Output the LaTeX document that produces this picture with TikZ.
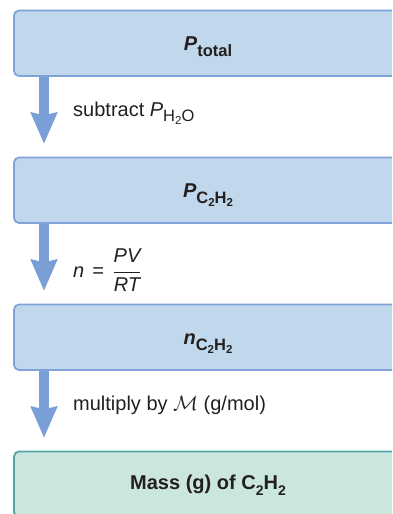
\documentclass[tikz,border=0pt]{standalone}
\usepackage{fontspec}
\setmainfont{Liberation Sans}
\usetikzlibrary{arrows.meta,backgrounds}
\definecolor{boxfill}{HTML}{C1D8EC}
\definecolor{boxline}{HTML}{80A4D8}
\definecolor{arrowc}{HTML}{7A9ED6}
\definecolor{gfill}{HTML}{CAE6DD}
\definecolor{gline}{HTML}{4FA6A6}
\definecolor{ink}{HTML}{231F20}
\newcommand\subP[1]{\raisebox{-5.5pt}{\fontsize{16.5}{18}\selectfont #1}}
\newcommand\subD[1]{\raisebox{-3pt}{\fontsize{11.5}{13}\selectfont #1}}
\newcommand\subN[1]{\raisebox{-5.5pt}{\fontsize{14}{16}\selectfont #1}}
\tikzset{
  box/.style={rectangle, rounded corners=5pt, line width=1.8pt, outer sep=0pt,
    minimum width=388pt, minimum height=65.5pt, inner sep=0pt, text=ink,
    font=\fontsize{20}{24}\selectfont\bfseries, text depth=0pt},
  bluebox/.style={box, draw=boxline, fill=boxfill},
  greenbox/.style={box, draw=gline, fill=gfill},
  flow/.style={color=arrowc, line width=10pt,
    -{Stealth[length=31.5pt, width=27.5pt, inset=3.3pt, line width=0pt]}},
  lbl/.style={text=ink, inner sep=0pt, font=\fontsize{20}{24}\selectfont}
}
\begin{document}
\begin{tikzpicture}[x=1pt,y=-1pt]
\useasboundingbox (0,0) rectangle (392,514);
\clip (0,0) rectangle (392,514);
\node[bluebox, text height=15pt] (b1) at (208,43.25) {{\itshape P}\subP{total}};
\node[bluebox, text height=14.5pt] (b2) at (208,190.25) {{\itshape P}\subP{C\subD{2}H\subD{2}}};
\node[bluebox, text height=15pt] (b3) at (208,337.25) {{\itshape n}\subP{C\subD{2}H\subD{2}}};
\node[greenbox, text height=11pt] (b4) at (208,484.25) {Mass (g) of C\subN{2}H\subN{2}};
\coordinate (ax) at (44,0);
\coordinate (t1) at ([yshift=14pt]b2.north);
\coordinate (t2) at ([yshift=14pt]b3.north);
\coordinate (t3) at ([yshift=14pt]b4.north);
\begin{scope}[on background layer]
\draw[flow] (b1.south -| ax) -- (t1 -| ax);
\draw[flow] (b2.south -| ax) -- (t2 -| ax);
\draw[flow] (b3.south -| ax) -- (t3 -| ax);
\end{scope}
\node[lbl, anchor=base west] (l1) at (73,116) {subtract \textit{P}\subP{H\subD{2}O}};
\node[lbl, anchor=base west] (l2) at (73,277) {\textit{n}\hspace{8pt}=\hspace{8.5pt}$\displaystyle\frac{\textit{PV}}{\textit{RT}}$};
\node[lbl, anchor=base west] (l3) at (73,410) {multiply by $\mathcal{M}$ (g/mol)};
\end{tikzpicture}
\end{document}
